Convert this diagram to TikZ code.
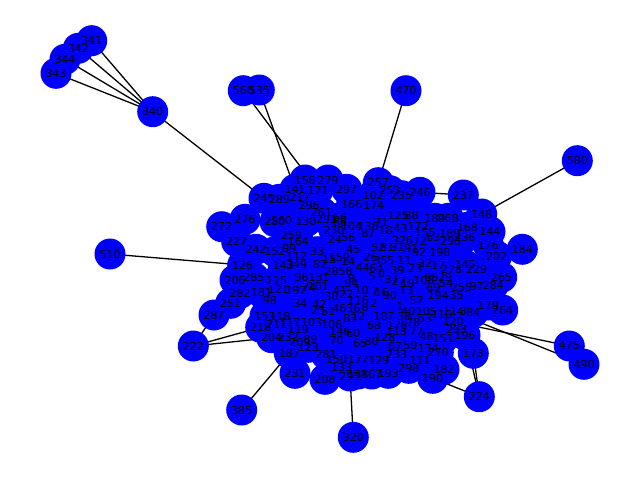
\documentclass[tikz,border=0pt]{standalone}
\usepackage{fontspec}
\setmainfont{DejaVu Sans}
\usetikzlibrary{backgrounds}
\definecolor{nblue}{RGB}{0,0,255}
\def\nodelist{152.7/111.7/340, 91.7/40.7/341, 78.3/48.3/342, 65/59.3/344, 56/73.3/343,
243.3/90.7/560, 259.3/90/535, 406/90.7/470, 577.3/160.7/580, 522.3/249.3/184,
110/254/510, 193.3/346/222, 214/315/287, 241.7/410/385, 353.3/437.3/320,
479.3/396.7/224, 569.3/346/475, 584/364.3/490, 463.3/195/237, 481.7/214/148,
221.7/226.7/272, 473.3/353.3/173,
305/180/156, 328/180/279, 295/189.3/141, 318/190/171, 346.7/189.3/297,
264/198.3/245, 279.3/199.3/289, 300/197.3/217, 309.3/205/296, 351.7/204/166,
321.7/212.3/261, 245/219.3/276, 275/221.7/250, 281.7/220/260, 306/221.7/130,
326.7/219.3/291, 340/217.7/66, 340/222.7/86, 351.7/226.7/104, 334/230/230,
291.7/235/259, 298.3/241/164, 335/239.3/24, 348.3/237.3/56, 236.7/241.7/227,
256/249.3/242, 275/251.7/152, 289.3/248.3/99, 317.3/251.7/33, 353.3/250/45,
296.7/256.7/112, 329.3/259.3/15, 339.3/257.7/159, 348.3/261.7/14, 242.7/265/126,
283.3/265/143, 296.7/264/349, 320/264/82, 331.7/271.7/28, 345.7/271/58,
254/277.7/285, 235/280/206, 301.7/277/96, 319/277/131, 276.7/281/115,
378.3/182.7/257, 373.3/195/102, 390/190.7/253, 401.7/195.7/235, 420/192.3/246,
374/205/174, 398.3/215/125, 411.7/215/88, 435/218.3/180, 448.3/218.3/268,
381.7/222.3/71, 368.3/226/136, 400.7/228.3/43, 418.3/226.7/172, 467.3/227.3/168,
368.3/233.3/87, 385.7/230/18, 490/231.7/144, 425/232.7/155, 433.3/237.3/63,
450/233.3/189, 450.7/241.7/290, 465/237.3/236, 402.5/240.5/326, 420/241.5/72,
488.3/245/176, 378.3/247.3/52, 387/247.3/81, 397.5/247/31, 411/248.5/91,
419/252.5/92, 440/252.5/198, 496.7/256/202, 370.5/257/26, 384/260.7/355,
404.5/260/11, 425/263/32, 438.3/265/17, 465/265/145, 476.7/269.3/229,
451.7/269.3/278, 362.7/267/44, 376.3/268.8/64, 397.3/270/39, 415.5/268.3/23,
501.7/277.3/265, 372.2/277/5, 381.7/273.3/0, 391.7/279.3/37, 398.8/281.7/27,
407.8/283/19, 424.2/280/108, 431.7/277.3/85, 445/277.3/29, 446/284/54,
433.3/287.7/69, 461.7/287.3/255, 476.7/286/97, 493.3/285/284, 406.7/290/13,
438.3/295.5/194, 456.7/295/35, 416.7/300.7/57, 400/306/1, 408.3/311.2/40,
426.7/311.2/105, 453.3/311.7/114, 463.3/311.7/3, 473.3/312.3/84, 488.3/305/179,
502.7/310/264, 374/303/2, 384/316.3/107, 404/316.7/38, 425/318.3/53,
441.7/314/110, 397.3/325/178, 413.3/322.3/78, 453.3/321.7/120, 456.7/329/293,
374/325/68, 396.7/331.7/113, 416.7/331.7/77, 426.7/336/48, 443.3/338.3/151,
465/335/196, 385/337.7/128, 371.7/341.7/80, 395/346.7/67, 410.7/345.7/59,
428.3/348.3/134, 438.3/352.3/270, 396.7/354/233, 379/360/129, 420/360/111,
408.8/368.3/298, 444/369.3/182, 388.3/373.3/193, 371.7/374/167, 432.7/378.3/190,
240/293.3/282, 261.7/292.7/181, 278.3/289.3/121, 296/290/197, 318.3/286/101,
309/287/74, 230.7/303.3/251, 270/300/98, 300/303.3/34, 319.3/304/42,
340/290/41, 346.7/294/22, 331.7/296.7/30, 361.7/290.7/10, 358.3/300.7/116,
375/291.7/7, 381.7/292.7/16, 390/295/90, 265/316/153, 280/316/118,
318.3/310.7/25, 328.3/311.7/51, 339.3/308.3/46, 353.3/308/36, 365/307.3/8,
311.7/322.3/103, 331.7/324/106, 350/318/83, 358.3/316/12, 351.7/283.3/94,
351.7/278.3/9, 260.7/327.3/218, 276.7/324/211, 290/322.7/117, 298.3/329.3/119,
340/331/146, 353.3/333.3/60, 271.7/337.7/204, 288.3/337.7/232, 300/342.3/209,
310.7/339.3/89, 308.3/347.3/123, 336.7/340/70, 360/343.3/65, 289.3/353.3/187,
326/354.3/281, 336.7/359.3/150, 358.3/359.3/177, 295/373.3/231, 325/379.3/208,
341.7/367.3/133, 350/376/295, 358/374/138}
\begin{document}
\begin{tikzpicture}[x=1pt,y=-1pt,
  vtx/.style={circle,fill=nblue,draw=none,minimum size=31pt,inner sep=0pt},
  lbl/.style={font=\fontsize{11}{11}\selectfont,text=black,inner sep=0pt},
  edge/.style={line width=1.3pt,black}]
\useasboundingbox (0,0) rectangle (640,480);
\foreach \x/\y/\l in \nodelist { \node[vtx] (n\l) at (\x,\y) {}; }
\foreach \x/\y/\l in \nodelist { \node[lbl] at (n\l) {\l}; }
\begin{scope}[on background layer]
\draw[edge] (n340.center) -- (n341.center);
\draw[edge] (n340.center) -- (n342.center);
\draw[edge] (n340.center) -- (n344.center);
\draw[edge] (n340.center) -- (n343.center);
\draw[edge] (n340.center) -- (n245.center);
\draw[edge] (n560.center) -- (n171.center);
\draw[edge] (n535.center) -- (n141.center);
\draw[edge] (n470.center) -- (n257.center);
\draw[edge] (n580.center) -- (n148.center);
\draw[edge] (n184.center) -- (n176.center);
\draw[edge] (n237.center) -- (n246.center);
\draw[edge] (n237.center) -- (n155.center);
\draw[edge] (n510.center) -- (n126.center);
\draw[edge] (n222.center) -- (n287.center);
\draw[edge] (n222.center) -- (n204.center);
\draw[edge] (n222.center) -- (n218.center);
\draw[edge] (n385.center) -- (n187.center);
\draw[edge] (n320.center) -- (n295.center);
\draw[edge] (n224.center) -- (n173.center);
\draw[edge] (n224.center) -- (n196.center);
\draw[edge] (n224.center) -- (n190.center);
\draw[edge] (n475.center) -- (n120.center);
\draw[edge] (n490.center) -- (n114.center);
\end{scope}
\end{tikzpicture}
\end{document}
